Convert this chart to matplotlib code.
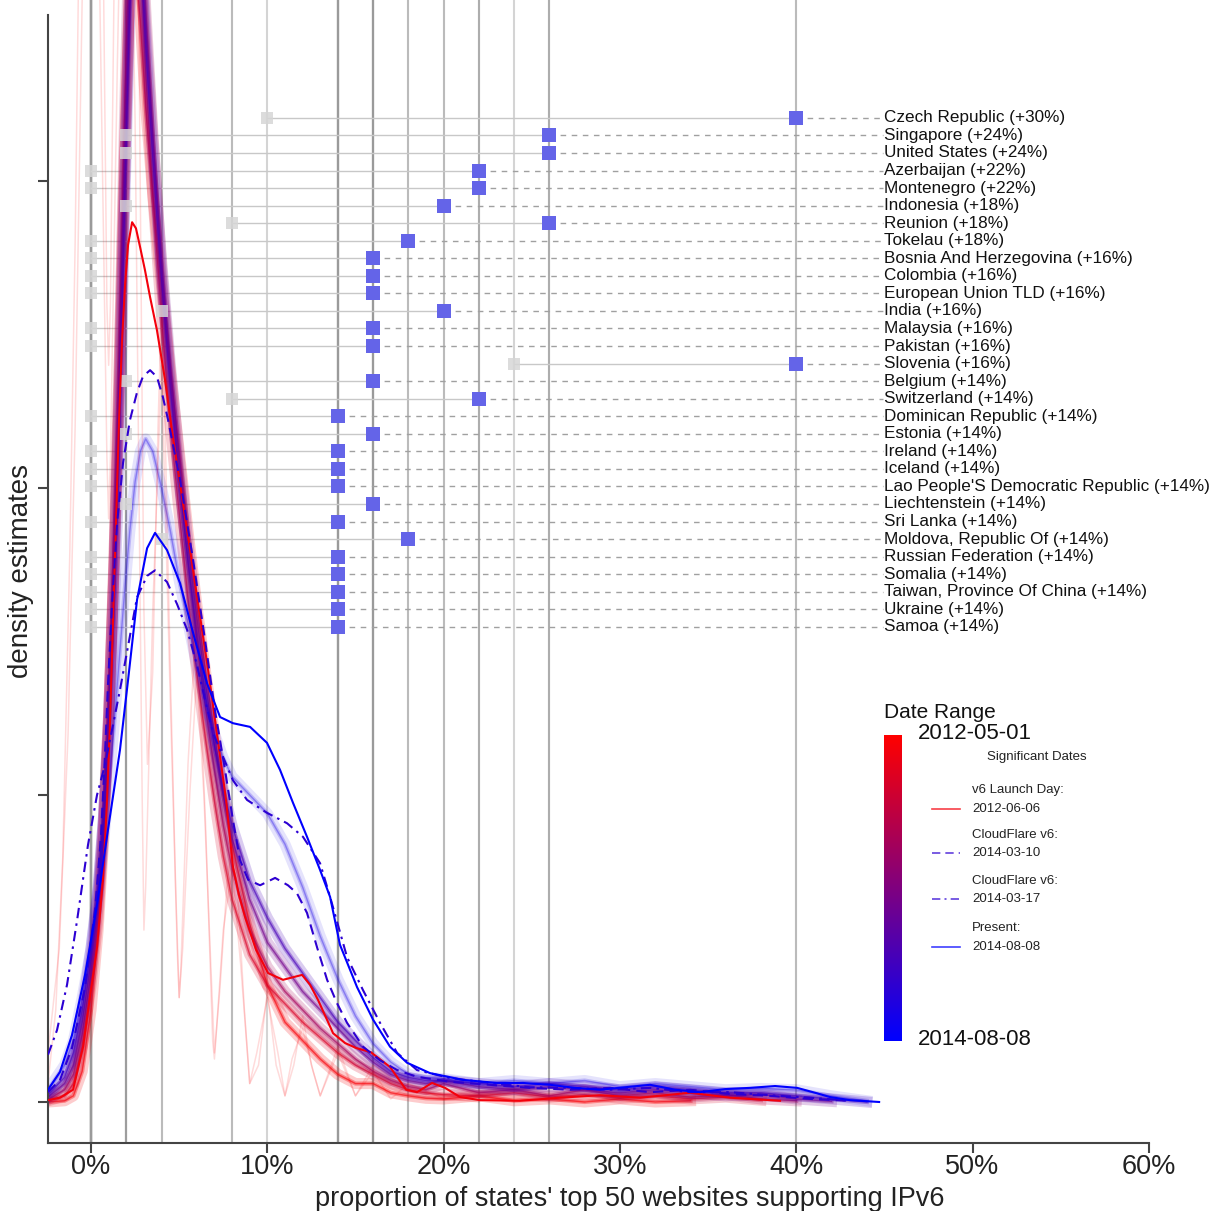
import numpy as np
import matplotlib
matplotlib.use('Agg')
import matplotlib.pyplot as plt
from matplotlib.colors import LinearSegmentedColormap

plt.rcParams['font.family'] = ['Liberation Sans', 'DejaVu Sans']

# ---- country changes (start / end share of top-50 sites on IPv6, %) ----
countries = ['Czech Republic', 'Singapore', 'United States', 'Azerbaijan', 'Montenegro',
             'Indonesia', 'Reunion', 'Tokelau', 'Bosnia And Herzegovina', 'Colombia',
             'European Union TLD', 'India', 'Malaysia', 'Pakistan', 'Slovenia', 'Belgium',
             'Switzerland', 'Dominican Republic', 'Estonia', 'Ireland', 'Iceland',
             "Lao People'S Democratic Republic", 'Liechtenstein', 'Sri Lanka',
             'Moldova, Republic Of', 'Russian Federation', 'Somalia',
             'Taiwan, Province Of China', 'Ukraine', 'Samoa']
start_pct = [10, 2, 2, 0, 0, 2, 8, 0, 0, 0, 0, 4, 0, 0, 24, 2, 8, 0, 2, 0,
             0, 0, 2, 0, 4, 0, 0, 0, 0, 0]
end_pct = [40, 26, 26, 22, 22, 20, 26, 18, 16, 16, 16, 20, 16, 16, 40, 16, 22, 14, 16, 14,
           14, 14, 16, 14, 18, 14, 14, 14, 14, 14]

# ---- highlighted density curves ----
launch_x = [-2.44, -1.76, -1.02, -0.45, -0.06, 0.34, 0.68, 0.91, 1.08, 1.25, 1.42, 1.59, 1.76,
            1.93, 2.10, 2.33, 2.55, 2.78, 3.06, 3.35, 3.74, 4.20, 4.59, 5.10, 5.62, 6.13, 6.64,
            7.15, 7.66, 8.05, 8.39, 8.74, 9.36, 10.04, 10.89, 11.97, 12.42, 12.88, 13.73, 14.41,
            15.03, 15.88, 16.96, 17.87, 18.49, 19.34, 20.08, 20.93, 22.06, 24.33, 26.60, 28.87,
            31.14, 33.98, 36.24, 39.08]
launch_y = [0.03, 0.07, 0.20, 0.90, 1.71, 2.52, 3.62, 4.92, 6.22, 7.85, 9.48, 11.11, 12.41,
            13.31, 13.96, 14.33, 14.23, 13.93, 13.55, 13.11, 12.57, 11.76, 10.94, 9.97, 8.99,
            8.01, 7.04, 5.98, 4.92, 3.83, 3.37, 3.01, 2.48, 2.10, 1.99, 2.07, 1.91, 1.66, 1.12,
            0.96, 0.88, 0.81, 0.57, 0.20, 0.16, 0.31, 0.23, 0.08, 0.03, 0.02, 0.07, 0.11, 0.07,
            0.15, 0.07, 0.02]

cf1_x = [-2.44, -1.76, -1.08, -0.34, 0.23, 0.57, 0.79, 0.96, 1.19, 1.47, 1.82, 2.21, 2.61,
         2.95, 3.35, 3.74, 4.08, 4.37, 5.05, 5.79, 6.47, 7.03, 7.60, 8.05, 8.45, 8.91, 9.59,
         10.44, 11.17, 11.68, 12.25, 12.82, 13.39, 13.95, 14.52, 15.43, 16.39, 17.36, 18.49,
         20.36, 22.63, 24.90, 27.17, 29.44, 31.71, 33.98, 36.24, 38.51, 40.78, 43.05]
cf1_y = [0.16, 0.36, 0.88, 1.86, 3.13, 4.35, 5.65, 6.79, 8.09, 9.40, 10.42, 11.11, 11.56,
         11.82, 11.92, 11.81, 11.48, 11.11, 10.13, 8.83, 7.52, 6.38, 5.41, 4.59, 3.94, 3.62,
         3.53, 3.65, 3.53, 3.40, 3.08, 2.52, 1.99, 1.61, 1.29, 0.90, 0.68, 0.52, 0.41, 0.33,
         0.28, 0.23, 0.20, 0.23, 0.16, 0.20, 0.13, 0.10, 0.05, 0.02]

cf2_x = [-2.44, -1.93, -1.36, -0.79, -0.17, 0.34, 0.79, 1.19, 1.64, 2.04, 2.61, 3.18, 3.63,
         4.31, 4.88, 5.45, 6.01, 6.47, 6.92, 7.49, 8.05, 8.85, 9.98, 11.12, 12.02, 12.99, 13.56,
         14.52, 15.43, 16.39, 17.36, 18.49, 20.36, 22.63, 24.90, 27.17, 29.44, 31.71, 33.98,
         36.24, 38.51, 40.78, 43.05]
cf2_y = [0.77, 1.17, 1.91, 2.96, 4.19, 5.00, 5.49, 6.06, 6.71, 7.33, 8.22, 8.57, 8.66, 8.47,
         8.11, 7.69, 7.12, 6.55, 6.01, 5.62, 5.24, 4.92, 4.71, 4.54, 4.32, 3.89, 3.34, 2.36,
         1.82, 1.29, 0.80, 0.52, 0.39, 0.31, 0.24, 0.23, 0.20, 0.23, 0.16, 0.16, 0.11, 0.07,
         0.02]

present_x = [-2.44, -1.76, -1.08, -0.34, 0.34, 0.96, 1.64, 2.10, 2.61, 3.18, 3.63, 4.31, 5.05,
             5.79, 6.58, 7.32, 8.05, 9.02, 9.98, 10.72, 11.46, 12.25, 12.99, 13.56, 14.12,
             15.09, 16.00, 16.96, 17.92, 19.23, 21.10, 23.03, 24.50, 26.04, 27.45, 28.87, 30.29,
             31.71, 33.13, 34.54, 35.96, 37.38, 38.80, 40.05, 41.07, 41.92, 43.05, 44.70]
present_y = [0.20, 0.49, 1.09, 2.07, 3.21, 4.43, 5.73, 6.87, 8.18, 9.02, 9.27, 8.99, 8.45,
             7.64, 6.82, 6.27, 6.17, 6.11, 5.85, 5.41, 4.87, 4.32, 3.78, 3.34, 2.56, 1.87, 1.34,
             0.90, 0.64, 0.47, 0.36, 0.31, 0.31, 0.28, 0.23, 0.20, 0.24, 0.28, 0.20, 0.16, 0.21,
             0.23, 0.26, 0.23, 0.15, 0.08, 0.03, 0.0]

# ---- background density curves (other dates) ----
bg_x = [-2.44, -1.5, -1.0, -0.5, 0, 0.4, 0.7, 1.0, 1.3, 1.6, 1.9, 2.2, 2.5, 2.8, 3.1, 3.5,
        4.0, 4.5, 5.0, 5.5, 6.0, 6.5, 7.0, 7.5, 8.0, 9, 10, 11, 12, 13, 14, 15, 16, 17, 18,
        19, 20, 22, 24, 26, 28, 30, 32, 34, 36, 38, 40, 42, 44]
nan = np.nan
bg0_y = [0.0, 0.02, 0.1, 0.5, 1.5, 2.8, 4.2, 6.2, 8.8, 12.0, 15.5, 18.2, 18.6, 17.6, 16.2, 14.8,
         13.3, 11.9, 10.6, 9.3, 8.1, 7.0, 6.0, 5.0, 4.2, 2.9, 1.9, 1.3, 1.0, 0.7, 0.45, 0.3,
         0.3, 0.15, 0.1, 0.06, 0.05, 0.1, 0.02, 0.05, 0.0, 0.05, 0.0, 0.02, nan, nan, nan, nan, nan]
bg1_y = [0.02, 0.1, 0.3, 0.9, 1.9, 3.0, 4.4, 6.2, 8.6, 11.5, 15.0, 18.5, 20.0, 18.8, 16.8, 14.8,
         12.8, 11.0, 9.6, 8.2, 7.0, 5.9, 4.9, 4.0, 3.3, 2.4, 1.9, 1.6, 1.3, 1.05, 0.8, 0.6,
         0.45, 0.3, 0.2, 0.15, 0.12, 0.1, 0.15, 0.08, 0.12, 0.06, 0.1, 0.05, 0.08, 0.03, nan, nan, nan]
bg2_y = [0.04, 0.2, 0.45, 1.1, 2.1, 3.2, 4.5, 6.3, 8.8, 12.0, 16.0, 19.5, 21.0, 19.8, 17.8, 15.8,
         13.6, 11.8, 10.2, 8.8, 7.5, 6.4, 5.4, 4.5, 3.8, 2.8, 2.2, 1.8, 1.5, 1.2, 0.95, 0.7,
         0.5, 0.35, 0.25, 0.2, 0.3, 0.15, 0.2, 0.1, 0.2, 0.1, 0.15, 0.08, 0.12, 0.05, 0.02, nan, nan]
bg3_y = [0.08, 0.3, 0.6, 1.3, 2.3, 3.4, 4.6, 6.3, 8.6, 11.5, 15.0, 18.2, 19.6, 19.0, 17.5, 15.7,
         13.7, 12.0, 10.5, 9.1, 7.9, 6.8, 5.8, 5.0, 4.3, 3.3, 2.6, 2.2, 1.8, 1.5, 1.2, 0.9,
         0.65, 0.45, 0.35, 0.3, 0.35, 0.25, 0.2, 0.25, 0.2, 0.15, 0.2, 0.15, 0.1, 0.12, 0.05, 0.01, nan]
bg4_y = [0.12, 0.4, 0.8, 1.5, 2.5, 3.5, 4.6, 6.0, 7.9, 10.4, 14.5, 17.8, 19.2, 18.8, 17.2, 15.4,
         13.4, 11.6, 10.1, 8.8, 7.6, 6.6, 5.8, 5.1, 4.5, 3.6, 3.0, 2.5, 2.1, 1.7, 1.3, 1.0,
         0.72, 0.5, 0.4, 0.35, 0.35, 0.3, 0.25, 0.3, 0.25, 0.2, 0.25, 0.2, 0.15, 0.15, 0.1, 0.05, 0.0]
bg5_y = [0.2, 0.6, 1.0, 1.7, 2.5, 3.4, 4.2, 5.1, 6.1, 7.2, 8.3, 9.3, 10.1, 10.6, 10.8, 10.6,
         10.0, 9.3, 8.5, 7.8, 7.1, 6.5, 6.0, 5.6, 5.3, 5.0, 4.7, 4.2, 3.5, 2.7, 2.0, 1.4,
         0.95, 0.65, 0.45, 0.4, 0.38, 0.3, 0.35, 0.3, 0.35, 0.25, 0.3, 0.25, 0.2, 0.22, 0.2, 0.1, 0.02]
bg_curves = [bg0_y, bg1_y, bg2_y, bg3_y, bg4_y, bg5_y]
bg_pos = [0.03, 0.15, 0.35, 0.55, 0.72, 0.9]
bg_weight = [1.0, 1.0, 1.0, 1.0, 1.0, 0.55]

# early spiky curves
spike1_x = [-2.44, -2.0, -1.6, -1.2, -0.9, -0.7, -0.4, 0.0, 0.4, 0.7, 0.9, 1.0, 1.1, 1.3, 1.6,
            2.0, 2.4, 2.7, 3.0, 3.2, 3.5, 3.8, 4.0, 4.2, 4.5, 4.8, 5.0, 5.2, 5.6, 6.0, 6.4, 6.8,
            7.0, 7.3, 7.7, 8.0, 8.3, 8.7, 9.0, 9.4, 10.0, 10.6, 11.0, 11.4, 12.0, 12.6, 13.0,
            14.0, 15.0, 16.0, 17.0, 18.0, 20.0, 22.0]
spike1_y = [0.3, 1.5, 4.0, 9.0, 14.0, 18.5, 28, 40, 28, 18.5, 13, 12, 13, 18, 28, 40, 28, 18,
            8, 5.5, 7, 11, 13, 11, 7, 3.5, 1.7, 2.5, 5, 7, 5, 2.2, 0.8, 1.8, 3.5, 4.2, 3.5, 1.5,
            0.3, 0.8, 1.7, 0.8, 0.1, 0.7, 1.2, 0.5, 0.1, 0.8, 0.1, 0.5, 0.05, 0.3, 0.05, 0.0]
spike2_x = [-2.44, -1.8, -1.3, -0.9, -0.5, 0.0, 0.5, 0.9, 1.0, 1.1, 1.5, 2.0, 2.5, 2.9, 3.0,
            3.1, 3.5, 4.0, 4.5, 4.9, 5.0, 5.1, 5.5, 6.0, 6.5, 6.9, 7.0, 7.1, 7.5, 8.0, 8.5, 9.0,
            9.5, 10.0, 10.5, 11.0, 11.5, 12.0, 12.5, 13.0, 14.0, 15.0, 16.0, 18.0, 20.0, 24.0, 28.0]
spike2_y = [0.8, 2.5, 6.0, 11.0, 18.0, 26.0, 18.0, 10.5, 9.5, 10.5, 17.0, 24.0, 16.0, 5.0, 2.8,
            3.5, 8.0, 12.0, 6.5, 2.4, 1.7, 2.2, 5.5, 8.0, 4.5, 1.0, 0.7, 1.1, 2.8, 3.8, 2.2, 0.3,
            0.6, 1.8, 0.6, 0.1, 0.6, 1.4, 0.6, 0.1, 0.9, 0.1, 0.6, 0.2, 0.1, 0.05, 0.0]

date_first = np.datetime64('2012-05-01')
date_last = np.datetime64('2014-08-08')
sig_names = ['v6 Launch Day:', 'CloudFlare v6:', 'CloudFlare v6:', 'Present:']
sig_dates = ['2012-06-06', '2014-03-10', '2014-03-17', '2014-08-08']

cmap = LinearSegmentedColormap.from_list('dates', ['#FF0000', '#0000FF'])


def date_pos(d):
    return float((np.datetime64(d) - date_first) / (date_last - date_first))


fig = plt.figure(figsize=(12.12, 12.11), dpi=100)
ax = fig.add_axes([48 / 1212, 1 - 1143 / 1211, 1 - 48 / 1212, 1143 / 1211])

# vertical reference lines, one per country value
for v in start_pct + end_pct:
    ax.axvline(v, color='#9a9a9a', alpha=0.42, lw=1.5, zorder=1)

# background curves
for yv, t, w in zip(bg_curves, bg_pos, bg_weight):
    c = cmap(t)
    ax.plot(bg_x, yv, color=c, lw=8, alpha=0.2 * w, zorder=2, solid_joinstyle='round')
    ax.plot(bg_x, yv, color=c, lw=3, alpha=0.35 * w, zorder=2, solid_joinstyle='round')
    ax.plot(bg_x, yv, color=c, lw=1.0, alpha=0.6 * w, zorder=2)
ax.plot(spike1_x, spike1_y, color=cmap(0.0), lw=1.1, alpha=0.14, zorder=2)
ax.plot(spike2_x, spike2_y, color=cmap(0.02), lw=1.1, alpha=0.14, zorder=2)

# highlighted dates
styles = ['-', (0, (5, 3)), (0, (5, 2.5, 1.2, 2.5)), '-']
curves = [(launch_x, launch_y), (cf1_x, cf1_y), (cf2_x, cf2_y), (present_x, present_y)]
for (cx, cy), d, ls in zip(curves, sig_dates, styles):
    ax.plot(cx, cy, color=cmap(date_pos(d)), lw=1.5, ls=ls, zorder=4)

# country rows
rows_y = np.linspace(16.03, 7.74, len(countries))
label_x = 45.0
for name, s, e, y in zip(countries, start_pct, end_pct, rows_y):
    ax.plot([s, e], [y, y], color='#c8c8c8', lw=1.0, zorder=1)
    ax.plot([e, label_x - 0.1], [y, y], color='#a0a0a0', lw=1.0, ls=(0, (4, 4)), zorder=1)
    ax.text(label_x, y, f'{name} (+{e - s}%)', fontsize=12.3, va='center', ha='left',
            color='#111111', zorder=6)
ax.scatter(start_pct, rows_y, marker='s', s=80, color='#d6d6d6', alpha=0.85,
           linewidths=0, zorder=3)
ax.scatter(end_pct, rows_y, marker='s', s=90, color='#6464E8', linewidths=0, zorder=5)

# date colour bar
grad = np.linspace(0, 1, 256).reshape(-1, 1)
ax.imshow(grad, cmap=cmap, extent=[44.98, 46.0, 1.0, 5.98], aspect='auto',
          origin='upper', zorder=5)
ax.text(45.0, 6.35, 'Date Range', fontsize=15, va='center', ha='left', color='#111111')
ax.text(46.9, 6.01, str(date_first), fontsize=16, va='center', ha='left', color='#111111')
ax.text(46.9, 1.01, str(date_last), fontsize=16, va='center', ha='left', color='#111111')

# significant dates legend
ax.text(53.66, 5.62, 'Significant Dates', fontsize=9.5, va='center', ha='center',
        color='#222222')
leg_rows = [5.08, 4.35, 3.60, 2.83]
for nm, d, ls, ly in zip(sig_names, sig_dates, styles, leg_rows):
    ax.text(49.97, ly, nm, fontsize=9.5, va='center', ha='left', color='#222222')
    ax.text(49.97, ly - 0.30, d, fontsize=9.5, va='center', ha='left', color='#222222')
    ax.plot([47.7, 49.3], [ly - 0.30, ly - 0.30], color=cmap(date_pos(d)), lw=1.2, ls=ls,
            alpha=0.75)

ax.set_xlim(-2.44, 63.58)
ax.set_ylim(-0.668, 17.95)
ax.set_xticks(range(0, 61, 10))
ax.set_xticklabels([f'{v}%' for v in range(0, 61, 10)])
ax.set_yticks([0, 5, 10, 15])
ax.set_yticklabels([])
for side in ['top', 'right']:
    ax.spines[side].set_visible(False)
for side in ['left', 'bottom']:
    ax.spines[side].set_color('#444444')
    ax.spines[side].set_linewidth(1.5)
ax.spines['left'].set_bounds(-0.668, 17.70)
ax.spines['bottom'].set_bounds(-2.44, 60)
ax.tick_params(axis='both', length=7, width=1.5, color='#444444', labelsize=19.5,
               labelcolor='#222222', pad=1)
ax.set_xlabel("proportion of states' top 50 websites supporting IPv6", fontsize=19.5,
              color='#222222', labelpad=4)
ax.set_ylabel('density estimates', fontsize=20, color='#222222', labelpad=2)

fig.savefig('out.png', dpi=100)
